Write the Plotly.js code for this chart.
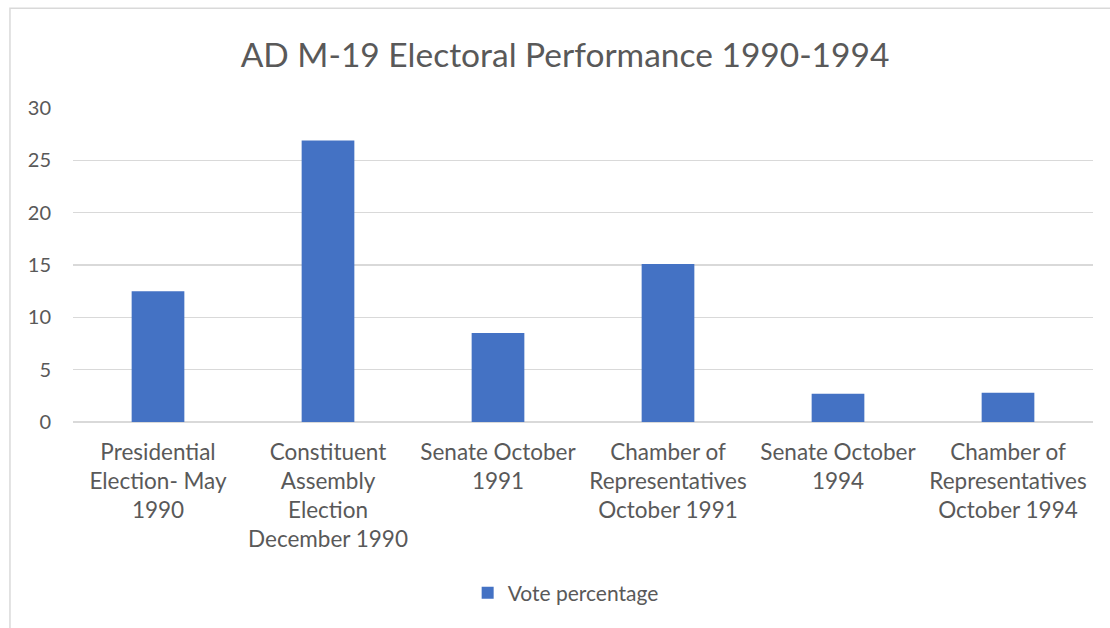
<!DOCTYPE html>
<html>
<head>
<meta charset="utf-8">
<script src="https://cdn.plot.ly/plotly-3.0.1.min.js"></script>
<style>html,body{margin:0;padding:0;background:#fff;}#chart{width:1110px;height:628px;}</style>
</head>
<body>
<div id="chart"></div>
<script>
const categories = [
  "Presidential<br>Election- May<br>1990",
  "Constituent<br>Assembly<br>Election<br>December 1990",
  "Senate October<br>1991",
  "Chamber of<br>Representatives<br>October 1991",
  "Senate October<br>1994",
  "Chamber of<br>Representatives<br>October 1994"
];
const votePercentage = [12.5, 26.9, 8.5, 15.1, 2.7, 2.8];
const yTicks = [0, 5, 10, 15, 20, 25, 30];
const seriesName = "Vote percentage";
const chartTitle = "AD M-19 Electoral Performance 1990-1994";

const fontFam = "Lato, 'Noto Sans', sans-serif";
const trace = {
  type: "bar",
  x: categories,
  y: votePercentage,
  name: seriesName,
  marker: {color: "#4472c4"},
  hoverinfo: "y"
};
const layout = {
  width: 1110, height: 628,
  margin: {l: 73, r: 17, t: 108, b: 206},
  paper_bgcolor: "#ffffff",
  plot_bgcolor: "#ffffff",
  font: {family: fontFam, color: "#595959", size: 20},
  title: {text: chartTitle, font: {family: fontFam, size: 33.5, color: "#595959"}, x: 0.509, xanchor: "center", y: 0.912, yanchor: "middle"},
  bargap: 0.69,
  showlegend: true,
  legend: {orientation: "h", x: 0.483, xanchor: "center", y: -0.545, yanchor: "middle", font: {size: 21, color: "#595959"}, itemwidth: 30},
  xaxis: {
    tickfont: {size: 22.5, color: "#595959"},
    showgrid: false, showline: false, ticks: "", zeroline: false,
    ticklabelstandoff: 14
  },
  yaxis: {
    range: [0, 30], tickvals: yTicks, showgrid: true, gridcolor: "#d9d9d9", gridwidth: 1.5,
    zeroline: true, zerolinecolor: "#d9d9d9", zerolinewidth: 1.5, showline: false, ticks: "",
    tickfont: {size: 20, color: "#595959"}, ticklabelstandoff: 21
  },
  shapes: [{
    type: "rect", xref: "paper", yref: "paper",
    x0: -0.0618, x1: 1.2, y0: -1.0, y1: 1.318,
    line: {color: "#d9d9d9", width: 1.5}, fillcolor: "rgba(0,0,0,0)", layer: "below"
  }]
};
Plotly.newPlot("chart", [trace], layout, {displayModeBar: false, staticPlot: true});
</script>
</body>
</html>
